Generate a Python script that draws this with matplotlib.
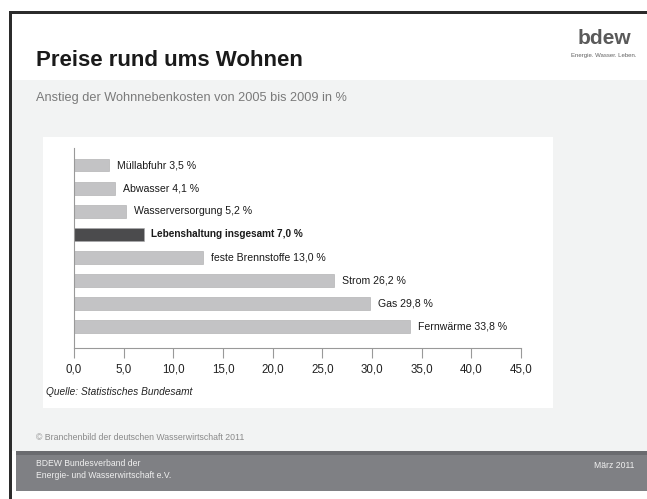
import matplotlib.pyplot as plt
from matplotlib.patches import Rectangle

# data
categories = ["Müllabfuhr", "Abwasser", "Wasserversorgung", "Lebenshaltung insgesamt",
              "feste Brennstoffe", "Strom", "Gas", "Fernwärme"]
values = [3.5, 4.1, 5.2, 7.0, 13.0, 26.2, 29.8, 33.8]
highlight = "Lebenshaltung insgesamt"
xticks = [0, 5, 10, 15, 20, 25, 30, 35, 40, 45]

W, H = 647, 499
SANS = ["Liberation Sans", "DejaVu Sans"]


def fx(x):
    return x / W


def fy(y):
    return 1 - y / H


def box(fig, x0, y0, x1, y1, color):
    fig.patches.append(Rectangle((fx(x0), fy(y1)), fx(x1) - fx(x0), fy(y0) - fy(y1),
                                 transform=fig.transFigure, facecolor=color,
                                 edgecolor="none", zorder=-5))


fig = plt.figure(figsize=(W / 100, H / 100), dpi=100)
fig.patch.set_facecolor("white")

# page frame
box(fig, 9, 11, 647, 13.5, "#2b2b2b")
box(fig, 9, 11, 12, 499, "#2b2b2b")
# grey panel + footer
box(fig, 12, 80, 647, 451, "#f2f3f3")
box(fig, 16, 451, 647, 455, "#6a6b6f")
box(fig, 16, 455, 647, 491, "#7f8084")
# white chart area
box(fig, 43, 137, 553, 408, "white")

fig.text(fx(36), fy(60), "Preise rund ums Wohnen", fontsize=16, fontweight="bold",
         family=SANS, color="#1a1a1a", va="center")
fig.text(fx(604), fy(39), "bdew", fontsize=15, fontweight="bold", family=SANS,
         color="#5a5a5a", ha="center", va="center")
fig.text(fx(604), fy(56), "Energie. Wasser. Leben.", fontsize=4.3, family=SANS,
         color="#606060", ha="center", va="center")
fig.text(fx(36), fy(98), "Anstieg der Wohnnebenkosten von 2005 bis 2009 in %",
         fontsize=9.2, family=SANS, color="#7a7a7a", va="center")
fig.text(fx(36), fy(438), "© Branchenbild der deutschen Wasserwirtschaft 2011",
         fontsize=6.3, family=SANS, color="#8a8a8a", va="center")
fig.text(fx(36), fy(464), "BDEW Bundesverband der", fontsize=6.2, family=SANS,
         color="#f0f0f0", va="center")
fig.text(fx(36), fy(475), "Energie- und Wasserwirtschaft e.V.", fontsize=6.2,
         family=SANS, color="#f0f0f0", va="center")
fig.text(fx(634), fy(465), "März 2011", fontsize=6.2, family=SANS, color="#f0f0f0",
         ha="right", va="center")

# chart axes
ax = fig.add_axes([fx(74), fy(348), fx(521) - fx(74), (348 - 148) / H])
ax.set_zorder(5)
ax.patch.set_alpha(0)
ypos = list(range(len(categories)))
colors = ["#4b4b4d" if c == highlight else "#c3c3c5" for c in categories]
ax.barh(ypos, values, height=0.56, color=colors, edgecolor="#a9a9ab", linewidth=0.4)
for y, c, v in zip(ypos, categories, values):
    lbl = f"{c} {v:.1f}".replace(".", ",") + " %"
    bold = c == highlight
    ax.text(v + 0.8, y, lbl, va="center", ha="left", fontsize=7.2 if bold else 7.6,
            family=SANS, color="#1a1a1a", fontweight="bold" if bold else "normal")

ax.set_xlim(0, 45)
ax.set_ylim(7.91, -0.735)
ax.set_xticks(xticks)
ax.set_xticklabels([f"{t:.1f}".replace(".", ",") for t in xticks], family=SANS,
                   fontsize=8.3, color="#222222")
ax.set_yticks([])
for s in ["top", "right"]:
    ax.spines[s].set_visible(False)
ax.spines["left"].set_color("#999999")
ax.spines["bottom"].set_color("#999999")
ax.spines["left"].set_linewidth(0.8)
ax.spines["bottom"].set_linewidth(0.8)
ax.tick_params(axis="x", length=7, width=0.8, color="#999999", pad=4)

fig.text(fx(46), fy(392), "Quelle: Statistisches Bundesamt", fontsize=7.3, style="italic",
         family=SANS, color="#222222", va="center")

fig.savefig("out.png", dpi=100)
